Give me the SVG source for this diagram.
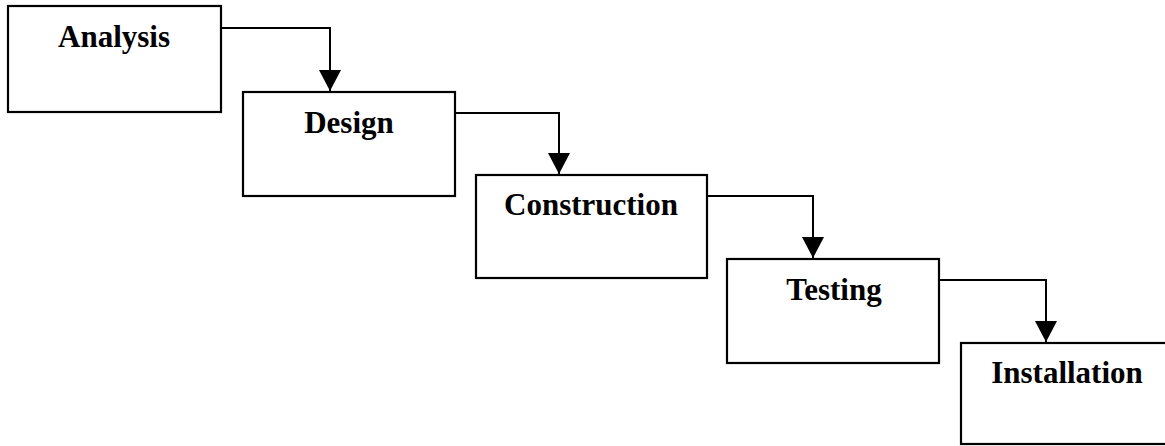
<svg xmlns="http://www.w3.org/2000/svg" width="1165" height="446" viewBox="0 0 1165 446">
  <style>
    .box { fill: #ffffff; stroke: #000000; stroke-width: 2.2; }
    .label { font-family: "Liberation Serif", "Times New Roman", serif; font-weight: bold; font-size: 31px; fill: #000000; text-anchor: middle; }
    .flow { fill: none; stroke: #000000; stroke-width: 2; }
  </style>
  <defs>
    <marker id="arrow" markerUnits="userSpaceOnUse" markerWidth="24" markerHeight="22" refX="21" refY="11" orient="auto">
      <path d="M0,0 L21,11 L0,22 Z" fill="#000000"/>
    </marker>
  </defs>
  <rect width="1165" height="446" fill="#ffffff"/>

  <g id="analysis">
    <rect class="box" x="8" y="6" width="213" height="106"/>
    <text class="label" x="114" y="47">Analysis</text>
  </g>
  <g id="design">
    <rect class="box" x="243" y="92" width="212" height="104"/>
    <text class="label" x="349" y="133">Design</text>
  </g>
  <g id="construction">
    <rect class="box" x="476" y="175" width="231" height="103"/>
    <text class="label" x="591" y="215">Construction</text>
  </g>
  <g id="testing">
    <rect class="box" x="727" y="259" width="212" height="104"/>
    <text class="label" x="834" y="300">Testing</text>
  </g>
  <g id="installation">
    <rect class="box" x="961" y="343" width="214" height="101"/>
    <text class="label" x="1067" y="383">Installation</text>
  </g>

  <g id="connectors">
    <path class="flow" d="M221,28 H330 V91" marker-end="url(#arrow)"/>
    <path class="flow" d="M455,113 H559 V174" marker-end="url(#arrow)"/>
    <path class="flow" d="M707,196 H813 V258" marker-end="url(#arrow)"/>
    <path class="flow" d="M939,280 H1046 V342" marker-end="url(#arrow)"/>
  </g>
</svg>
